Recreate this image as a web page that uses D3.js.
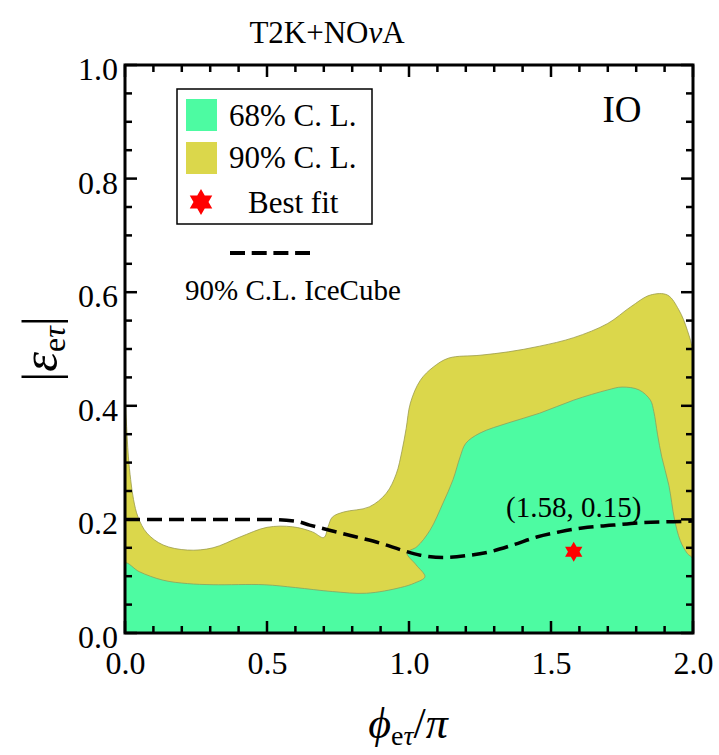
<!DOCTYPE html>
<html>
<head>
<meta charset="utf-8">
<script src="https://cdn.jsdelivr.net/npm/d3@7"></script>
<style>
body{margin:0;background:#fff;}
text{font-family:"Liberation Serif","DejaVu Serif",serif;}
</style>
</head>
<body>
<div id="chart"></div>
<script>
//data (phi/pi, |eps|)
var region90=[[0,0],[0,0.42],[0.004,0.38],[0.012,0.31],[0.02,0.27],[0.03,0.235],[0.046,0.204],[0.077,0.176],
  [0.134,0.155],[0.22,0.146],[0.31,0.15],[0.405,0.169],[0.5,0.186],[0.59,0.187],[0.66,0.178],[0.70,0.168],
  [0.715,0.187],[0.73,0.204],[0.77,0.213],[0.86,0.222],[0.92,0.246],[0.955,0.28],[0.975,0.32],[0.99,0.36],
  [1.005,0.405],[1.04,0.445],[1.085,0.468],[1.14,0.484],[1.25,0.489],[1.35,0.495],[1.46,0.505],[1.58,0.52],
  [1.70,0.545],[1.78,0.574],[1.85,0.595],[1.91,0.595],[1.95,0.569],[1.98,0.533],[2,0.49],[2,0]];
var region68=[[0,0],[0,0.123],[0.05,0.108],[0.134,0.093],[0.22,0.087],[0.31,0.085],[0.49,0.085],[0.6,0.08],
  [0.73,0.073],[0.85,0.07],[0.97,0.08],[1.02,0.088],[1.056,0.099],[1.025,0.12],[0.993,0.141],[1.028,0.152],
  [1.074,0.181],[1.12,0.229],[1.155,0.27],[1.18,0.31],[1.20,0.334],[1.25,0.352],[1.35,0.37],[1.46,0.387],
  [1.58,0.41],[1.70,0.428],[1.75,0.433],[1.81,0.428],[1.85,0.41],[1.862,0.39],[1.875,0.35],[1.89,0.31],
  [1.915,0.26],[1.935,0.2],[1.955,0.163],[1.98,0.14],[2,0.13],[2,0]];
var iceX=[0,0.3,0.5,0.6,0.65,0.72,0.815,0.9,0.98,1.04,1.12,1.2,1.285,1.366,1.45,1.53,1.61,1.72,1.81,1.93,2.0];
var iceY=[0.2,0.2,0.2,0.197,0.19,0.181,0.169,0.158,0.145,0.137,0.133,0.136,0.143,0.155,0.169,0.178,0.185,0.19,0.194,0.196,0.197];
var bestFit=[1.58,0.143];
var xTicks=[0,0.5,1,1.5,2];
var yTicks=[0,0.2,0.4,0.6,0.8,1];

var W=719,H=755;
var mLeft=125,mRight=693,mTop=65,mBottom=633;
var green="#4dfba2",olive="#dbd74b";

var svg=d3.select("#chart").append("svg").attr("width",W).attr("height",H);
var x=d3.scaleLinear().domain([0,2]).range([mLeft,mRight]);
var y=d3.scaleLinear().domain([0,1]).range([mBottom,mTop]);

svg.append("defs").append("clipPath").attr("id","clip")
  .append("rect").attr("x",mLeft).attr("y",mTop).attr("width",mRight-mLeft).attr("height",mBottom-mTop);

var area=d3.line().x(function(d){return x(d[0]);}).y(function(d){return y(d[1]);}).curve(d3.curveCatmullRom.alpha(0.5));
var g=svg.append("g").attr("clip-path","url(#clip)");
g.append("path").attr("d",area(region90)+"Z").attr("fill",olive).attr("stroke","#9a9a4a").attr("stroke-width",0.8);
g.append("path").attr("d",area(region68)+"Z").attr("fill",green).attr("stroke","#8aa060").attr("stroke-width",0.8);

var ice=d3.zip(iceX,iceY);
g.append("path").attr("d",d3.line().x(function(d){return x(d[0]);}).y(function(d){return y(d[1]);}).curve(d3.curveMonotoneX)(ice))
  .attr("fill","none").attr("stroke","#000").attr("stroke-width",3.5).attr("stroke-dasharray","15,7");

function star(cx,cy,R){
  var pts=[];
  for(var k=0;k<12;k++){
    var a=(-90+30*k)*Math.PI/180;
    var r=(k%2==0)?R:R/Math.sqrt(3);
    pts.push([cx+r*Math.cos(a),cy+r*Math.sin(a)]);
  }
  return "M"+pts.join("L")+"Z";
}
svg.append("path").attr("d",star(x(bestFit[0]),y(bestFit[1]),10)).attr("fill","#f00");
svg.append("text").attr("x",x(bestFit[0])).attr("y",y(bestFit[1])-35).attr("text-anchor","middle")
  .attr("font-size",29).text("(1.58, 0.15)");

//axes on four sides
var xAx=d3.axisBottom(x).tickValues(xTicks).tickFormat(d3.format(".1f")).tickSize(0);
var yAx=d3.axisLeft(y).tickValues(yTicks).tickFormat(d3.format(".1f")).tickSize(0);
var gx=svg.append("g").attr("transform","translate(0,"+mBottom+")").call(xAx);
var gy=svg.append("g").attr("transform","translate("+mLeft+",0)").call(yAx);
gx.select(".domain").remove();gy.select(".domain").remove();
gx.selectAll("text").attr("font-size",32).attr("font-family","Liberation Serif").attr("fill","#000").attr("dy","0.8em").attr("y",15);
gy.selectAll("text").attr("font-size",32).attr("font-family","Liberation Serif").attr("fill","#000").attr("x",-7).attr("dy","0.45em");

var ticks=svg.append("g").attr("stroke","#000").attr("stroke-width",2.5);
d3.range(0,21).forEach(function(i){
  var v=i/10,len=(i%5==0)?12:7;
  ticks.append("line").attr("x1",x(v)).attr("x2",x(v)).attr("y1",mBottom).attr("y2",mBottom-len);
  ticks.append("line").attr("x1",x(v)).attr("x2",x(v)).attr("y1",mTop).attr("y2",mTop+len);
});
d3.range(0,21).forEach(function(i){
  var v=i/20,len=(i%4==0)?12:7;
  ticks.append("line").attr("y1",y(v)).attr("y2",y(v)).attr("x1",mLeft).attr("x2",mLeft+len);
  ticks.append("line").attr("y1",y(v)).attr("y2",y(v)).attr("x1",mRight).attr("x2",mRight-len);
});
svg.append("rect").attr("x",mLeft).attr("y",mTop).attr("width",mRight-mLeft).attr("height",mBottom-mTop)
  .attr("fill","none").attr("stroke","#000").attr("stroke-width",3);

//title and labels
svg.append("text").attr("x",327).attr("y",43).attr("text-anchor","middle").attr("font-size",31)
  .html('T2K+NO<tspan font-style="italic">ν</tspan>A');
svg.append("text").attr("x",622).attr("y",122).attr("text-anchor","middle").attr("font-size",37).text("IO");

var xl=svg.append("text").attr("x",408).attr("y",738).attr("text-anchor","middle").attr("font-size",44);
xl.append("tspan").attr("font-style","italic").text("ϕ");
xl.append("tspan").attr("font-size",28).attr("dy",7).text("e");
xl.append("tspan").attr("font-size",28).attr("font-style","italic").text("τ");
xl.append("tspan").attr("dy",-7).text("/");
xl.append("tspan").attr("font-style","italic").text("π");

var yl=svg.append("text").attr("transform","translate(57,349) rotate(-90)").attr("text-anchor","middle").attr("font-size",50);
yl.append("tspan").text("|");
yl.append("tspan").attr("font-style","italic").text("ε");
yl.append("tspan").attr("font-size",32).attr("dy",8).text("e");
yl.append("tspan").attr("font-size",32).attr("font-style","italic").text("τ");
yl.append("tspan").attr("dy",-8).text("|");

//legend
var lg=svg.append("g");
lg.append("rect").attr("x",177).attr("y",89).attr("width",195).attr("height",135).attr("fill","#fff").attr("stroke","#000").attr("stroke-width",1.5);
lg.append("rect").attr("x",186).attr("y",99).attr("width",31).attr("height",32).attr("fill",green);
lg.append("rect").attr("x",186).attr("y",142).attr("width",31).attr("height",32).attr("fill",olive);
lg.append("path").attr("d",star(201,202,13)).attr("fill","#f00");
lg.append("text").attr("x",229).attr("y",126).attr("font-size",31).text("68% C. L.");
lg.append("text").attr("x",229).attr("y",168).attr("font-size",31).text("90% C. L.");
lg.append("text").attr("x",248).attr("y",213).attr("font-size",31).text("Best fit");
lg.append("line").attr("x1",230).attr("x2",310).attr("y1",253).attr("y2",253).attr("stroke","#000").attr("stroke-width",4).attr("stroke-dasharray","15,6.7");
lg.append("text").attr("x",185).attr("y",300).attr("font-size",29).text("90% C.L. IceCube");
</script>
</body>
</html>
